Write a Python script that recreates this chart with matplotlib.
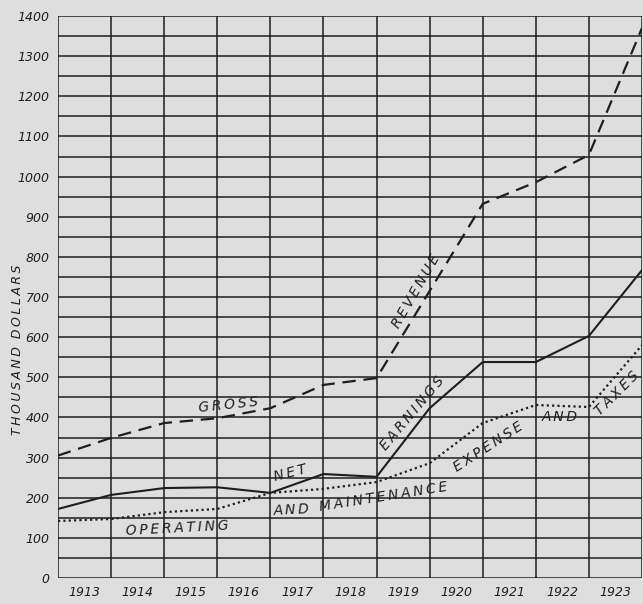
import matplotlib
matplotlib.use("Agg")
import matplotlib.pyplot as plt
import numpy as np

# ---------------------------------------------------------------------------
# Data (thousand dollars, read at year boundaries)
# ---------------------------------------------------------------------------
years = ["1913", "1914", "1915", "1916", "1917", "1918",
         "1919", "1920", "1921", "1922", "1923"]
gross_revenue = [305, 349, 386, 398, 423, 481, 498, 715, 932, 986, 1054, 1370]
net_earnings = [172, 207, 224, 226, 212, 259, 252, 423, 538, 538, 603, 767]
operating_expense = [142, 147, 164, 172, 212, 222, 239, 286, 386, 431, 426, 580]

BG = "#dedede"
INK = "#1e1e1e"
TS = "\u2009"  # thin space for the wide hand lettering


def spaced(s):
    return TS.join(s)


fig = plt.figure(figsize=(6.43, 6.04), dpi=100, facecolor=BG)
ax = fig.add_axes([58 / 643, 26 / 604, 584 / 643, 562 / 604], facecolor=BG)

x = np.arange(len(gross_revenue))

# grid: vertical at every year boundary, horizontal every 50
for xv in x:
    ax.axvline(xv, color=INK, lw=1.1, zorder=1)
for yv in np.arange(0, 1401, 50):
    ax.axhline(yv, color=INK, lw=1.1, zorder=1)

ax.plot(x, gross_revenue, color=INK, lw=1.6, linestyle=(0, (6, 3.5)), zorder=3)
ax.plot(x, net_earnings, color=INK, lw=1.5, zorder=3)
ax.plot(x, operating_expense, color=INK, lw=1.6, linestyle=(0, (1, 1.4)), zorder=3)

ax.set_xlim(0, 11)
ax.set_ylim(0, 1400)
ax.set_yticks(np.arange(0, 1401, 100))
ax.set_yticklabels([str(v) for v in range(0, 1401, 100)],
                   fontsize=9, style="italic", color=INK)
ax.set_xticks(np.arange(len(years)) + 0.5)
ax.set_xticklabels(years, fontsize=9, style="italic", color=INK)
ax.tick_params(length=0, pad=6)
for s in ax.spines.values():
    s.set_visible(False)

fig.text(18 / 643, 1 - 350 / 604, spaced("THOUSAND") + "  " + spaced("DOLLARS"),
         rotation=90, fontsize=9, style="italic", color=INK,
         ha="center", va="center")

# line annotations
lbl = dict(fontsize=10, style="italic", color=INK, ha="center", va="center",
           zorder=4)
ax.text(3.2, 432, spaced("GROSS"), rotation=6, **lbl)
ax.text(6.74, 715, spaced("REVENUE"), rotation=60, **lbl)
ax.text(4.37, 262, spaced("NET"), rotation=14, **lbl)
ax.text(6.67, 411, spaced("EARNINGS"), rotation=50, **lbl)
ax.text(2.24, 125, spaced("OPERATING"), rotation=3, **lbl)
ax.text(4.4, 169, spaced("AND"), rotation=3, **lbl)
ax.text(6.12, 203, spaced("MAINTENANCE"), rotation=9, **lbl)
ax.text(8.1, 326, spaced("EXPENSE"), rotation=33, **lbl)
ax.text(9.45, 401, spaced("AND"), rotation=0, **lbl)
ax.text(10.53, 461, spaced("TAXES"), rotation=45, **lbl)

fig.savefig("out.png", dpi=100, facecolor=BG)
